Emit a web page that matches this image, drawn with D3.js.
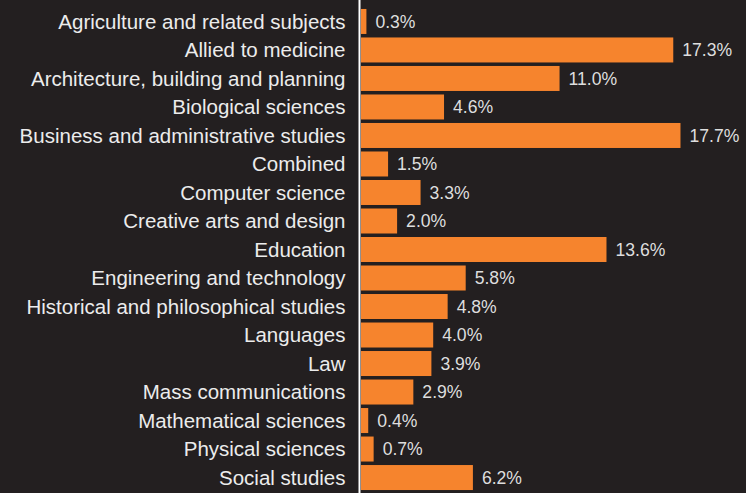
<!DOCTYPE html>
<html><head><meta charset="utf-8">
<script src="https://cdn.jsdelivr.net/npm/d3@7"></script>
<style>html,body{margin:0;padding:0;background:#231f20;}svg{display:block;}</style>
</head><body>
<svg id="c" width="746" height="493"></svg>
<script>
const subjects = ["Agriculture and related subjects","Allied to medicine","Architecture, building and planning","Biological sciences","Business and administrative studies","Combined","Computer science","Creative arts and design","Education","Engineering and technology","Historical and philosophical studies","Languages","Law","Mass communications","Mathematical sciences","Physical sciences","Social studies"];
const shares = [0.3,17.3,11.0,4.6,17.7,1.5,3.3,2.0,13.6,5.8,4.8,4.0,3.9,2.9,0.4,0.7,6.2];

const svg = d3.select("#c");
svg.append("rect").attr("width",746).attr("height",493).attr("fill","#231f20");
const x = d3.scaleLinear().domain([0,20]).range([361,722]);
const y = d3.scaleBand().domain(subjects).range([7.25,491.75]).paddingInner(0.123).paddingOuter(0.06);

svg.selectAll("rect.bar").data(subjects).join("rect").attr("class","bar")
  .attr("x",x(0)).attr("y",d=>y(d)).attr("height",y.bandwidth())
  .attr("width",(d,i)=>x(shares[i])-x(0)).attr("fill","#f6842d");

svg.selectAll("text.val").data(subjects).join("text").attr("class","val")
  .attr("x",(d,i)=>x(shares[i])+9).attr("y",d=>y(d)+y.bandwidth()/2)
  .attr("dy","0.36em").attr("fill","#dedede")
  .style("font-family","'Liberation Sans', Arial, sans-serif").style("font-size","17.6px")
  .text((d,i)=>shares[i].toFixed(1)+"%");

const ax = svg.append("g").attr("transform","translate(359.5,0)")
  .call(d3.axisLeft(y).tickSize(0).tickPadding(14));
ax.select(".domain").attr("stroke","#ffffff").attr("stroke-width",2).attr("d","M0,0V493");
ax.selectAll("text").attr("fill","#ececec").attr("dy","0.36em")
  .style("font-family","'Liberation Sans', Arial, sans-serif").style("font-size","20.5px");
</script>
</body></html>
